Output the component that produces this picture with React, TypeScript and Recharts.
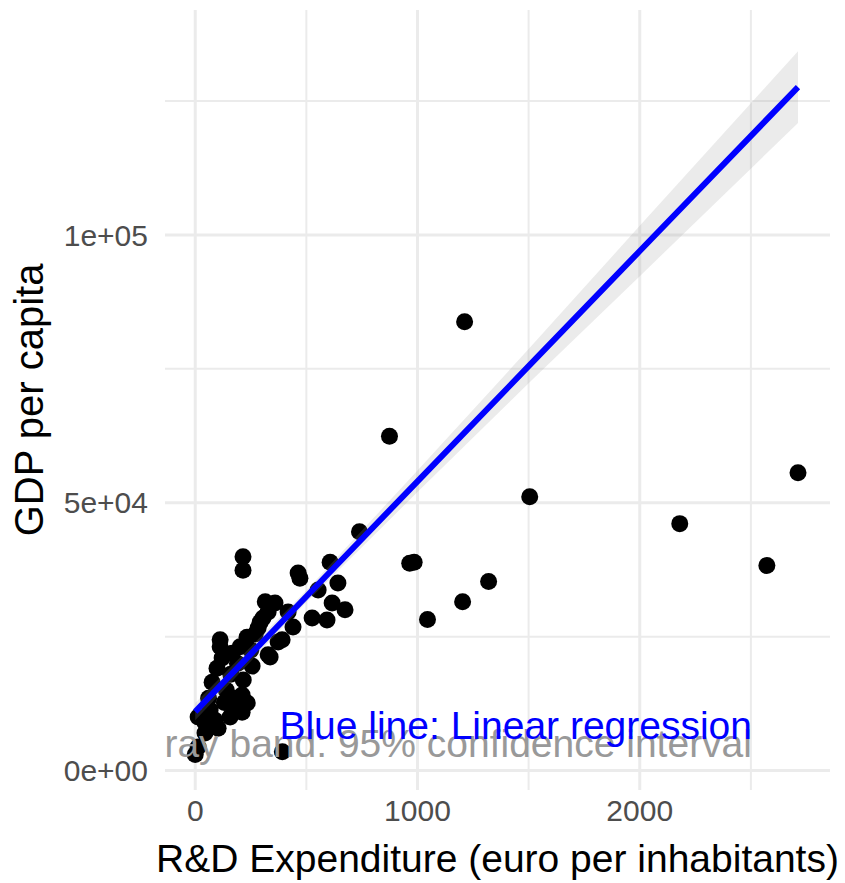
import {
  ComposedChart,
  Scatter,
  Area,
  Line,
  XAxis,
  YAxis,
  ReferenceLine,
  ReferenceDot,
} from 'recharts'

// R&D spending vs GDP per capita
const rdSpend = [
  0, 392, 1212, 874, 1505, 2180, 2712, 2572, 1320, 1203, 1045, 965, 985, 739,
  215, 215, 463, 471, 607, 642, 553, 616, 674, 526, 593, 440, 391, 315, 359,
  328, 305, 418, 283, 292, 233, 373, 112, 112, 202, 328, 166, 337, 121, 98,
  256, 76, 216, 140, 211, 234, 180, 211, 157, 89, 103, 44, 44, 13, 13, 67,
  131, 185, 250, 270, 160, 190, 60,
]
const gdpPerCapita = [
  3000, 3500, 83800, 62400, 51100, 46100, 55600, 38300, 35300, 31500, 28200,
  38700, 38900, 44600, 39900, 37400, 36900, 35900, 38900, 35000, 33700, 31300,
  30000, 28500, 28100, 26800, 24400, 31500, 31300, 29600, 28500, 29600, 26600,
  27700, 24900, 24000, 24400, 23100, 23100, 21600, 21900, 21200, 21000, 19100,
  19500, 16500, 16900, 15000, 14100, 12600, 11700, 10900, 10000, 9400, 7900,
  7000, 8900, 4400, 10000, 11300, 12700, 13500, 22500, 25500, 18000, 20000,
  13500,
]

// fitted line and 95% band
const fitX = [0, 500, 1000, 1500, 2000, 2712]
const fitY = [11000, 32500, 54000, 75500, 97000, 127600]
const bandLow = [9400, 31400, 52000, 72300, 92300, 120900]
const bandHigh = [12600, 33600, 56000, 78700, 101700, 134300]

const xTicks = [0, 1000, 2000]
const yTicks = [0, 50000, 100000]
const xMinor = [500, 1500, 2500]
const yMinor = [25000, 75000, 125000]

const points = rdSpend.map((x, i) => ({ x, y: gdpPerCapita[i] }))
const fitData = fitX.map((x, i) => ({ x, fit: fitY[i], band: [bandLow[i], bandHigh[i]] }))

const sci = (v: number) => {
  const [m, e] = v.toExponential(0).split('e')
  const sign = e[0] === '-' ? '-' : '+'
  const digits = e.replace(/[+-]/, '').padStart(2, '0')
  return `${m}e${sign}${digits}`
}

const W = 845
const H = 883
const MARGIN = { top: 10, right: 15, left: 0, bottom: 0 }
const Y_AXIS_W = 165
const X_AXIS_H = 93
const GRID = '#ebebeb'

const Dot = (props: any) => <circle cx={props.cx} cy={props.cy} r={8.5} fill="#000" />

// annotation text, clipped to the panel like ggplot does
const note = (text: string, color: string, id: string) => (props: any) => {
  const vb = props.viewBox || {}
  const left = MARGIN.left + Y_AXIS_W
  const top = MARGIN.top
  return (
    <g>
      <defs>
        <clipPath id={id}>
          <rect x={left} y={top} width={W - MARGIN.right - left} height={H - X_AXIS_H - top} />
        </clipPath>
      </defs>
      <text x={vb.x} y={vb.y} textAnchor="end" fontSize={39} fill={color} clipPath={`url(#${id})`}>
        {text}
      </text>
    </g>
  )
}

export default function App() {
  return (
    <div style={{ position: 'absolute', left: 0, top: 0, fontFamily: '"Liberation Sans", Arial, sans-serif' }}>
      <ComposedChart width={W} height={H} data={fitData} margin={MARGIN}>
        {xMinor.map((v) => (
          <ReferenceLine key={`vx-${v}`} x={v} stroke={GRID} strokeWidth={2} />
        ))}
        {yMinor.map((v) => (
          <ReferenceLine key={`hy-${v}`} y={v} stroke={GRID} strokeWidth={2} />
        ))}
        {xTicks.map((v) => (
          <ReferenceLine key={`VX-${v}`} x={v} stroke={GRID} strokeWidth={3} />
        ))}
        {yTicks.map((v) => (
          <ReferenceLine key={`HY-${v}`} y={v} stroke={GRID} strokeWidth={3} />
        ))}
        <XAxis
          type="number"
          dataKey="x"
          domain={[-136, 2856]}
          allowDataOverflow
          ticks={xTicks}
          tickLine={false}
          axisLine={false}
          tickSize={0}
          tickMargin={10}
          height={X_AXIS_H}
          tick={{ fontSize: 30, fill: '#4d4d4d' }}
          label={{ value: 'R&D Expenditure (euro per inhabitants)', position: 'insideBottom', offset: 11, fontSize: 39, fill: '#000' }}
        />
        <YAxis
          type="number"
          domain={[-3635, 142000]}
          allowDataOverflow
          ticks={yTicks}
          tickFormatter={sci}
          tickLine={false}
          axisLine={false}
          tickSize={0}
          tickMargin={17}
          width={Y_AXIS_W}
          tick={{ fontSize: 30, fill: '#4d4d4d' }}
          label={{ value: 'GDP per capita', angle: -90, position: 'insideLeft', offset: 29, fontSize: 40, fill: '#000', style: { textAnchor: 'middle' } }}
        />
        <Scatter data={points} dataKey="y" shape={Dot} isAnimationActive={false} />
        <Area
          dataKey="band"
          type="linear"
          stroke="none"
          fill="#999999"
          fillOpacity={0.2}
          zIndex={700}
          isAnimationActive={false}
        />
        <Line
          dataKey="fit"
          type="linear"
          stroke="#0000ff"
          strokeWidth={6}
          dot={false}
          zIndex={710}
          isAnimationActive={false}
        />
        <ReferenceDot
          x={2505}
          y={2520}
          r={0}
          fill="none"
          stroke="none"
          zIndex={800}
          label={{ content: note('Gray band: 95% confidence interval', '#999999', 'clip-gray') }}
        />
        <ReferenceDot
          x={2505}
          y={5880}
          r={0}
          fill="none"
          stroke="none"
          zIndex={810}
          label={{ content: note('Blue line: Linear regression', '#0000ff', 'clip-blue') }}
        />
      </ComposedChart>
    </div>
  )
}
